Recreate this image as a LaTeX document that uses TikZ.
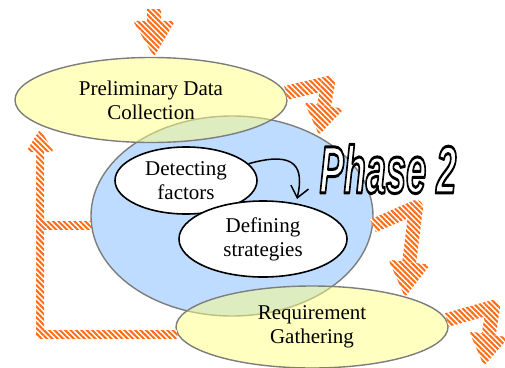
\documentclass[tikz,border=0pt]{standalone}
\usepackage{fontspec}
\setmainfont{Liberation Serif}
\newfontfamily\phasefont{Liberation Sans}
\usetikzlibrary{shapes.geometric,calc,patterns.meta,arrows.meta}
\definecolor{ostr}{RGB}{255,108,20}
\definecolor{ylw}{RGB}{255,255,128}
\definecolor{blu}{RGB}{190,220,255}
\definecolor{bord}{RGB}{125,125,125}
\tikzset{
  ostripe/.style={preaction={fill=white}, pattern={Lines[angle=-45,distance=3.8pt,line width=2pt]}, pattern color=ostr},
  ylwell/.style={ellipse, draw=bord, line width=1.4pt, fill=ylw, fill opacity=0.5, draw opacity=1, text opacity=1, inner sep=0pt, align=center, font=\fontsize{21}{24}\selectfont},
  whell/.style={ellipse, draw=black, line width=1.6pt, fill=white, inner sep=0pt, align=center, font=\fontsize{21}{24}\selectfont},
  phasetxt/.style={inner sep=0pt, font=\phasefont\bfseries\itshape\fontsize{67}{67}\selectfont},
}
\newcommand\oseg[3]{\fill[ostripe] ($(#1)!#3!90:(#2)$) -- ($(#2)!#3!-90:(#1)$) -- ($(#2)!#3!90:(#1)$) -- ($(#1)!#3!-90:(#2)$) -- cycle;}
\newcommand\ojoin[2]{\fill[ostripe] (#1) circle[radius=#2];}
\newcommand\ohead[4]{\coordinate (hb) at ($(#2)!#3!(#1)$);
  \fill[ostripe, rounded corners=3pt] (#2) -- ($(hb)!#4!90:(#2)$) -- ($(hb)!#4!-90:(#2)$) -- cycle;}
\newcommand\outlinetext[1]{\color{white}\special{pdf:literal direct 2 Tr 3 w 0 0 0 RG 1 j}#1\special{pdf:literal direct 0 Tr}}
\begin{document}
\begin{tikzpicture}[x=1pt,y=-1pt]
\useasboundingbox (0,0) rectangle (505,367);
% ellipses
\node[ellipse, draw=bord, line width=1.4pt, fill=blu, minimum width=282pt, minimum height=200pt, inner sep=0pt] (ph2) at (232,216) {};
\node[ylwell, minimum width=272pt, minimum height=85pt] (pdc) at (151,100) {Preliminary Data\\Collection};
\node[ylwell, minimum width=272pt, minimum height=82pt] (rg) at (312,327) {Requirement\\Gathering};
\node[whell, minimum width=142pt, minimum height=67pt] (df) at (186,180.5) {Detecting\\factors};
\node[whell, minimum width=168pt, minimum height=76pt] (ds) at (263,239) {Defining\\strategies};
% inner arrow
\coordinate (iat) at (297,199);
\draw[line width=1.5pt, -{Straight Barb[length=11pt,width=18pt]}] (df.15) .. controls (297,150) and (304,168) .. (iat);
% Phase 2 label
\node[phasetxt] (phase) at (388,169) {\scalebox{0.54}[1]{\outlinetext{Phase 2}}};
% top arrow
\coordinate (a0s) at (154,9);
\coordinate (a0t) at (pdc.north -| a0s);
\ohead{a0s}{a0t}{36pt}{21pt}
\oseg{a0s}{hb}{7pt}
% arrow 2
\coordinate (a2c) at (328,83);
\coordinate (a2t) at (319,135);
\oseg{pdc.3}{a2c}{7pt}
\ojoin{a2c}{7pt}
\ohead{a2c}{a2t}{30pt}{20pt}
\oseg{a2c}{hb}{7pt}
% arrow 3
\coordinate (a3c) at (416,207);
\coordinate (a3t) at (405,297);
\oseg{ph2.-4}{a3c}{7pt}
\ojoin{a3c}{7pt}
\ohead{a3c}{a3t}{35pt}{21pt}
\oseg{a3c}{hb}{7pt}
% arrow 4
\coordinate (a4c) at (493,307);
\coordinate (a4t) at (484,366);
\oseg{rg.3}{a4c}{7pt}
\ojoin{a4c}{7pt}
\ohead{a4c}{a4t}{32pt}{20pt}
\oseg{a4c}{hb}{7pt}
% left feedback
\coordinate (lx) at (40,0);
\coordinate (lc) at (lx |- rg.183);
\coordinate (lb) at (lx |- ph2.184);
\coordinate (lt) at (40,129);
\oseg{rg.183}{lc}{4pt}
\ojoin{lc}{4pt}
\ohead{lc}{lt}{23pt}{14pt}
\oseg{lc}{hb}{4pt}
\oseg{ph2.184}{lb}{4pt}
\end{tikzpicture}
\end{document}
